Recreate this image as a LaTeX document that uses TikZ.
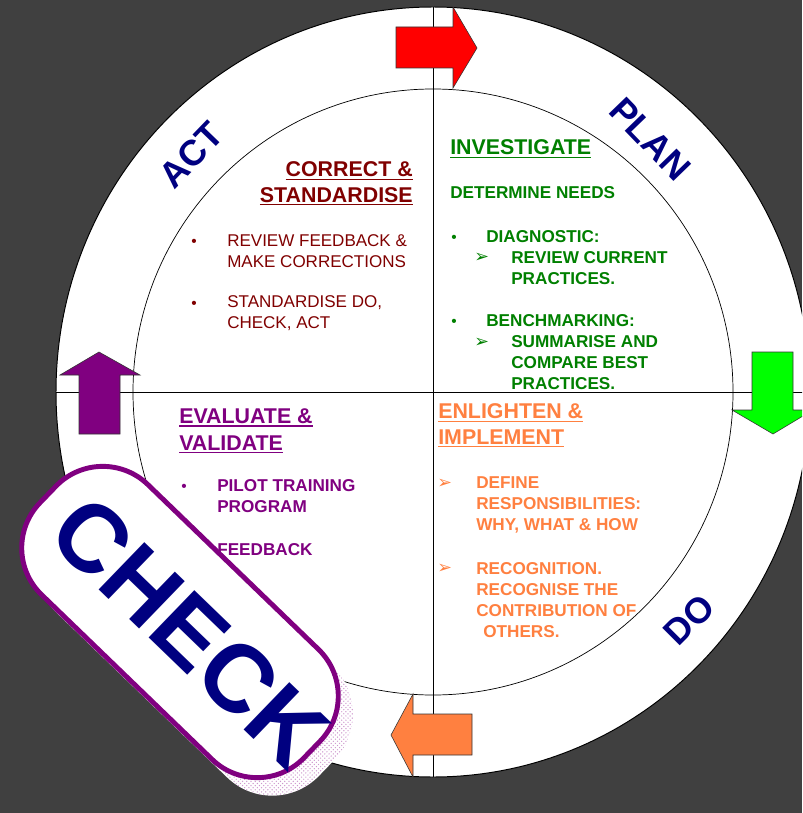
\documentclass[tikz,border=0pt]{standalone}
\usepackage{fontspec}
\setmainfont{Liberation Sans}
\newfontfamily\dingfont{DejaVu Sans}
\usetikzlibrary{patterns}

\definecolor{bgGray}{RGB}{64,64,64}
\definecolor{actRed}{RGB}{128,0,0}
\definecolor{planGreen}{RGB}{0,128,0}
\definecolor{checkPurple}{RGB}{128,0,128}
\definecolor{doOrange}{RGB}{255,128,64}
\definecolor{labelNavy}{RGB}{0,0,128}
\definecolor{shadowPink}{RGB}{205,150,205}

% underlined heading line
\newsavebox{\headbox}
\newcommand{\headul}[1]{\sbox{\headbox}{#1}\rlap{\rule[-2.2pt]{\wd\headbox}{0.9pt}}\usebox{\headbox}}

\begin{document}
\begin{tikzpicture}[
    x=0.025cm, y=-0.025cm,
    ringline/.style={draw=black, line width=0.5pt},
    turnarrow/.style={draw=black!80, line width=0.4pt},
    phaselabel/.style={
        font=\fontsize{25.6}{26}\selectfont\bfseries,
        text=labelNavy, inner sep=0pt,
    },
    headtext/.style={
        anchor=base west, inner sep=0pt, align=left,
        font=\fontsize{15.2}{17.8}\selectfont\bfseries,
    },
    bodytext/.style={
        anchor=base west, inner sep=0pt, align=left,
        font=\fontsize{12.2}{14.9}\selectfont\bfseries,
    },
    plaintext/.style={
        anchor=base west, inner sep=0pt, align=left,
        font=\fontsize{12.1}{14.6}\selectfont,
    },
    dotmark/.style={anchor=base west, inner sep=0pt, font=\fontsize{11}{14.9}\selectfont},
    arrowmark/.style={anchor=base west, inner sep=0pt, font=\dingfont\fontsize{12.5}{14.9}\selectfont},
    badgeshape/.style={
        rectangle, rotate=-44, inner sep=0pt,
        minimum width=9.175cm, minimum height=3.825cm,
        rounded corners=1.625cm,
    },
]

\def\cx{433}  % centre of the cycle
\def\cy{392}
% multi-line texts are placed at the baseline of their last line

% ── Background and rings ─────────────────────────────────────
\useasboundingbox (0,0) rectangle (802,813);
\clip (0,0) rectangle (802,813);
\fill[bgGray] (0,0) rectangle (802,813);
\draw[ringline, fill=white, line width=0.7pt] (\cx,\cy) ellipse [x radius=377, y radius=385];
\draw[ringline] (\cx,\cy) ellipse [x radius=300, y radius=303];
\draw[ringline] (\cx,7) -- (\cx,777);
\draw[ringline] (56,\cy) -- (810,\cy);

% ── Turning arrows on the ring ───────────────────────────────
\draw[turnarrow, fill=red]
    (396,27) -- (453,27) -- (453,7) -- (477,48) -- (453,88) -- (453,68) -- (396,68) -- cycle;
\draw[turnarrow, fill=green]
    (752,352) -- (793,352) -- (793,410) -- (813,410) -- (773,434) -- (732,410) -- (752,410) -- cycle;
\draw[turnarrow, fill=doOrange]
    (472,714) -- (413,714) -- (413,694) -- (391,735) -- (413,777) -- (413,755) -- (472,755) -- cycle;
\draw[turnarrow, fill=checkPurple]
    (79,434) -- (79,375) -- (60,375) -- (99,352) -- (140,375) -- (120,375) -- (120,434) -- cycle;

% ── Phase names ──────────────────────────────────────────────
\node[phaselabel, rotate=46] (actLabel) at (191,155) {ACT};
\node[phaselabel, rotate=-46] (planLabel) at (650,139) {PLAN};
\node[phaselabel, rotate=45] (doLabel) at (689,620) {DO};

% ── Act quadrant ─────────────────────────────────────────────
\node[headtext, anchor=base east, align=right, text=actRed] (actHead) at (413,202)
    {\headul{CORRECT \&}\\\headul{STANDARDISE}};
\foreach \by [count=\i] in {246, 308} {
    \node[dotmark, text=actRed] (actDot\i) at (191,\by) {•};
}
\node[plaintext, text=actRed] (actItemA) at (227,267) {REVIEW FEEDBACK \&\\MAKE CORRECTIONS};
\node[plaintext, text=actRed] (actItemB) at (227,328) {STANDARDISE DO,\\CHECK, ACT};

% ── Plan quadrant ────────────────────────────────────────────
\node[headtext, text=planGreen] (planHead) at (450,155) {\headul{INVESTIGATE}};
\node[bodytext, text=planGreen] (planNeeds) at (450,199) {DETERMINE NEEDS};
\foreach \by [count=\i] in {242, 326} {
    \node[dotmark, text=planGreen] (planDot\i) at (451,\by) {•};
}
\foreach \by [count=\i] in {262, 347} {
    \node[arrowmark, text=planGreen] (planArrow\i) at (474,\by) {➢};
}
\node[bodytext, text=planGreen] (planItemA) at (486,242) {DIAGNOSTIC:};
\node[bodytext, text=planGreen] (planSubA) at (511,284) {REVIEW CURRENT\\PRACTICES.};
\node[bodytext, text=planGreen] (planItemB) at (486,326) {BENCHMARKING:};
\node[bodytext, text=planGreen] (planSubB) at (511,389) {SUMMARISE AND\\COMPARE BEST\\PRACTICES.};

% ── Do quadrant ──────────────────────────────────────────────
\node[headtext, text=doOrange] (doHead) at (438,444) {\headul{ENLIGHTEN \&}\\\headul{IMPLEMENT}};
\foreach \by [count=\i] in {488, 573} {
    \node[arrowmark, text=doOrange] (doArrow\i) at (437,\by) {➢};
}
\node[bodytext, text=doOrange] (doItemA) at (476,530)
    {DEFINE\\RESPONSIBILITIES:\\WHY, WHAT \& HOW};
\node[bodytext, text=doOrange] (doItemB) at (476,637)
    {RECOGNITION.\\RECOGNISE THE\\CONTRIBUTION OF\\\hspace*{5pt}OTHERS.};

% ── Check quadrant ───────────────────────────────────────────
\node[headtext, text=checkPurple, font=\fontsize{15.2}{18.8}\selectfont\bfseries] (checkHead) at (179,450)
    {\headul{EVALUATE \&}\\\headul{VALIDATE}};
\foreach \by [count=\i] in {491, 555} {
    \node[dotmark, text=checkPurple] (checkDot\i) at (181,\by) {•};
}
\node[bodytext, text=checkPurple] (checkItemA) at (217,512) {PILOT TRAINING\\PROGRAM};
\node[bodytext, text=checkPurple] (checkItemB) at (217,555) {FEEDBACK};

% ── CHECK badge ──────────────────────────────────────────────
\node[badgeshape, fill=white, postaction={pattern=crosshatch dots, pattern color=shadowPink}]
    (checkShadow) at (195,640) {};
\node[badgeshape, draw=checkPurple, line width=3.5pt, fill=white] (checkBadge) at (180,622) {};
\node[font=\fontsize{68}{68}\selectfont\bfseries, text=labelNavy, rotate=-44, inner sep=0pt]
    (checkText) at (190,632) {CHECK};

\end{tikzpicture}
\end{document}
